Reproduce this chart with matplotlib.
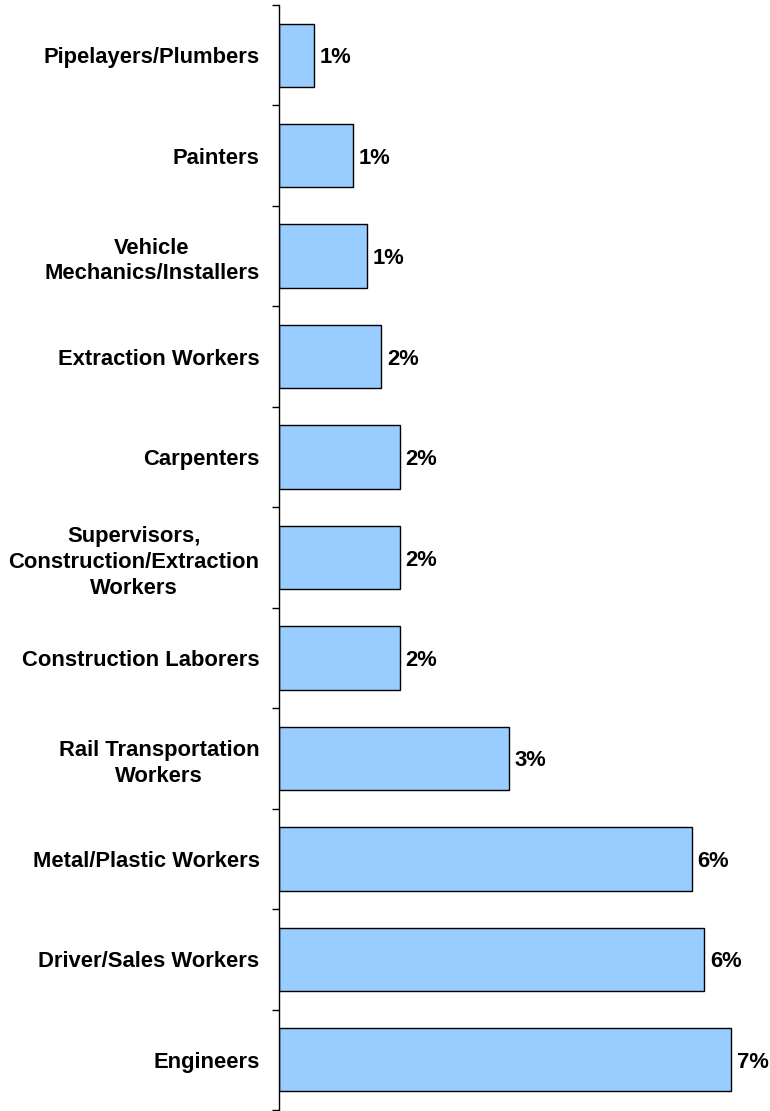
import matplotlib.pyplot as plt
import numpy as np

plt.rcParams['font.family'] = ['Liberation Sans', 'DejaVu Sans']

# top to bottom, as in the picture
occupations = ['Pipelayers/Plumbers', 'Painters', 'Vehicle\nMechanics/Installers',
               'Extraction Workers', 'Carpenters',
               'Supervisors,\nConstruction/Extraction\nWorkers',
               'Construction Laborers', 'Rail Transportation\nWorkers',
               'Metal/Plastic Workers', 'Driver/Sales Workers', 'Engineers']
share = [0.54, 1.15, 1.36, 1.58, 1.87, 1.87, 1.87, 3.56, 6.39, 6.58, 7.0]
share_labels = ['1%', '1%', '1%', '2%', '2%', '2%', '2%', '3%', '6%', '6%', '7%']

fig = plt.figure(figsize=(7.7, 11.11), dpi=100)
ax = fig.add_axes([279/770, 1 - 1110/1111, 1 - 279/770, 1105/1111])

y = np.arange(len(occupations))
ax.barh(y, share, height=0.63, color='#99CCFF', edgecolor='black', linewidth=1)
for yi, v, lab in zip(y, share, share_labels):
    ax.text(v + 0.09, yi, lab, va='center_baseline', ha='left',
            fontsize=15.8, fontweight='bold')

ax.set_ylim(len(occupations) - 0.5, -0.5)
ax.set_xlim(0, 491/64.6)
ax.set_yticks(y)
ax.set_yticklabels(occupations, fontsize=15.8, fontweight='bold',
                   multialignment='center', linespacing=1.3)
ax.set_yticks(np.arange(len(occupations) + 1) - 0.5, minor=True)
ax.tick_params(axis='y', which='major', length=0, pad=14)
ax.tick_params(axis='y', which='minor', length=5, width=1, direction='out')
ax.set_xticks([])
for s in ['top', 'right', 'bottom']:
    ax.spines[s].set_visible(False)
ax.spines['left'].set_linewidth(1)

fig.savefig('out.png', dpi=100)
